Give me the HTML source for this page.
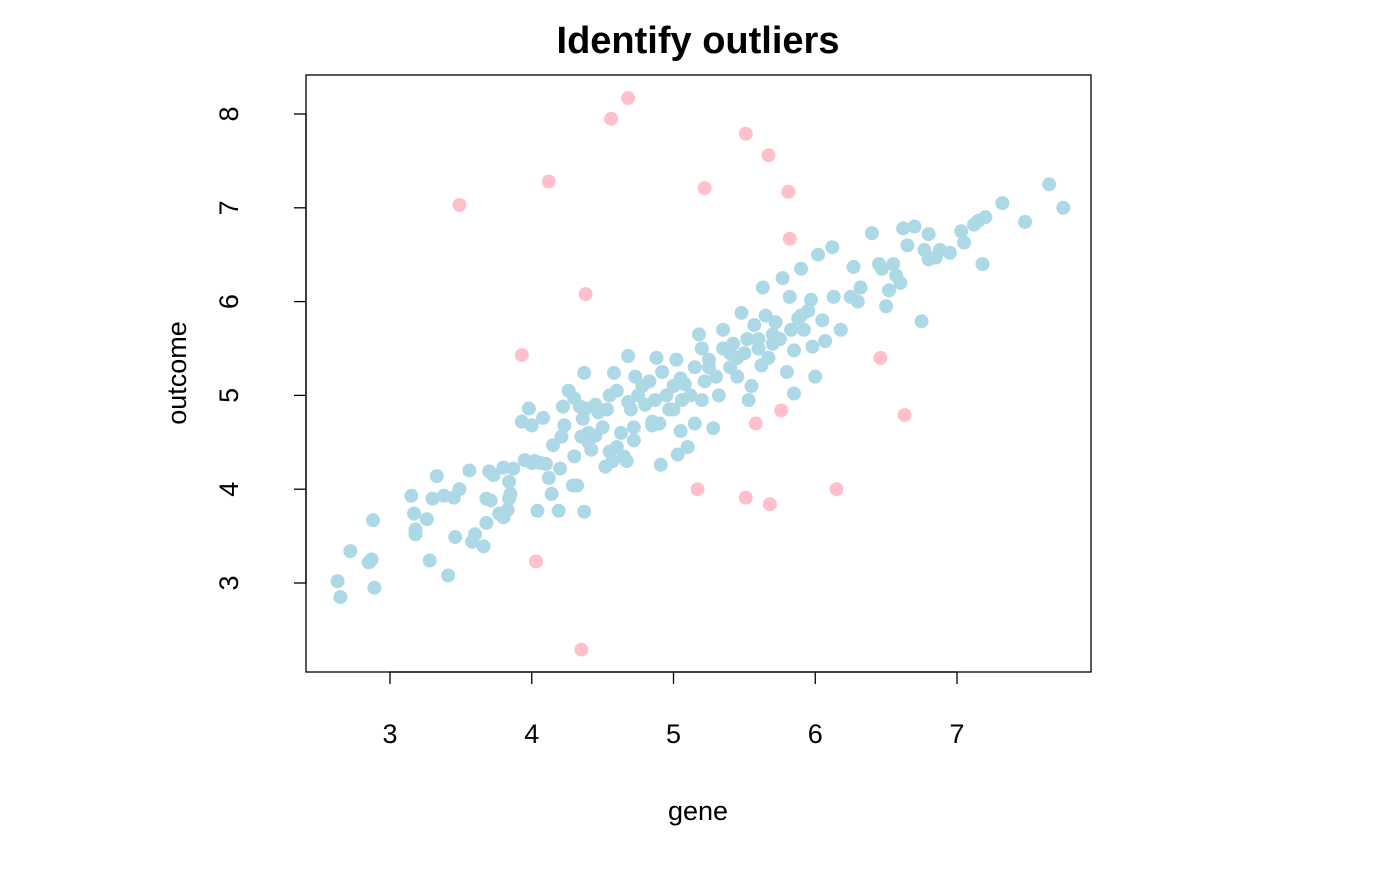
<!DOCTYPE html>
<html><head><meta charset="utf-8"><style>
html,body{margin:0;padding:0;background:#fff;}
svg text{font-family:"Liberation Sans",Arial,sans-serif;fill:#000;}
</style></head><body>
<svg id="chart" width="1400" height="865" xmlns="http://www.w3.org/2000/svg">
<text x="698" y="53" text-anchor="middle" font-size="38" font-weight="bold">Identify outliers</text>
<rect x="306" y="75" width="785" height="597" fill="none" stroke="#000" stroke-width="1.3"/>
<g id="xaxis"></g>
<g id="yaxis"></g>
<g id="points"></g>
<text x="698" y="820" text-anchor="middle" font-size="27">gene</text>
<text transform="translate(186,373) rotate(-90)" text-anchor="middle" font-size="27">outcome</text>
</svg>
<script>
const xTicks=[3,4,5,6,7];
const yTicks=[3,4,5,6,7,8];
const outlierX=[3.49,4.12,4.56,4.68,5.22,5.51,5.67,5.81,5.82,4.38,3.93,6.46,6.63,5.76,5.58,5.17,5.51,5.68,6.15,4.03,4.35];
const outlierY=[7.03,7.28,7.95,8.17,7.21,7.79,7.56,7.17,6.67,6.08,5.43,5.40,4.79,4.84,4.70,4.00,3.91,3.84,4.00,3.23,2.29];
const normalX=[2.63,2.65,2.72,2.85,2.87,2.88,2.89,3.15,3.17,3.18,3.18,3.26,3.28,3.3,3.33,3.38,3.41,3.45,3.46,3.49,3.56,3.58,3.6,3.66,3.68,3.68,3.7,3.71,3.73,3.77,3.8,3.8,3.83,3.84,3.84,3.85,3.87,3.93,3.95,3.98,4.0,4.02,4.04,4.06,4.08,4.1,4.12,4.14,4.15,4.19,4.2,4.21,4.22,4.23,4.26,4.29,4.3,4.3,4.32,4.34,4.35,4.36,4.37,4.37,4.38,4.4,4.42,4.45,4.47,4.5,4.52,4.53,4.55,4.55,4.57,4.58,4.6,4.6,4.63,4.65,4.67,4.68,4.7,4.72,4.72,4.73,4.75,4.78,4.8,4.83,4.85,4.87,4.88,4.9,4.91,4.92,4.95,4.97,5.0,5.02,5.03,5.05,5.06,5.08,5.1,5.12,5.15,5.18,5.2,5.2,5.22,5.25,5.28,5.3,5.32,5.35,5.35,5.4,5.42,5.45,5.48,5.5,5.52,5.53,5.55,5.57,5.6,5.62,5.63,5.65,5.67,5.7,5.72,5.75,5.77,5.8,5.82,5.83,5.85,5.85,5.88,5.9,5.92,5.95,5.97,5.98,6.0,6.02,6.05,6.07,6.12,6.13,6.18,6.25,6.27,6.3,6.32,6.4,6.45,6.47,6.5,6.52,6.55,6.57,6.6,6.62,6.65,6.7,6.75,6.77,6.8,6.8,6.85,6.88,6.95,7.03,7.05,7.12,7.15,7.18,7.2,7.32,7.48,7.65,7.75,4.0,4.68,5.05,5.15,5.4,5.6,4.85,5.0,5.25,4.4,4.45,5.45,5.7,5.9];
const normalY=[3.02,2.85,3.34,3.22,3.25,3.67,2.95,3.93,3.74,3.52,3.57,3.68,3.24,3.9,4.14,3.93,3.08,3.91,3.49,4.0,4.2,3.44,3.52,3.39,3.64,3.9,4.19,3.88,4.15,3.74,4.23,3.7,3.78,3.9,4.08,3.95,4.22,4.72,4.31,4.86,4.68,4.3,3.77,4.28,4.76,4.27,4.12,3.95,4.47,3.77,4.22,4.56,4.88,4.68,5.05,4.04,4.35,4.97,4.04,4.88,4.56,4.75,3.76,5.24,4.86,4.5,4.42,4.57,4.82,4.66,4.24,4.85,4.4,5.0,4.3,5.24,4.45,5.05,4.6,4.35,4.3,5.42,4.85,4.66,4.52,5.2,5.0,5.1,4.9,5.15,4.68,4.95,5.4,4.7,4.26,5.25,5.0,4.85,5.1,5.38,4.37,4.62,4.95,5.12,4.45,5.0,5.3,5.65,5.5,4.95,5.15,5.38,4.65,5.2,5.0,5.5,5.7,5.3,5.55,5.2,5.88,5.45,5.6,4.95,5.1,5.75,5.5,5.32,6.15,5.85,5.4,5.65,5.78,5.6,6.25,5.25,6.05,5.7,5.48,5.02,5.82,6.35,5.7,5.9,6.02,5.52,5.2,6.5,5.8,5.58,6.58,6.05,5.7,6.05,6.37,6.0,6.15,6.73,6.4,6.35,5.95,6.12,6.4,6.28,6.2,6.78,6.6,6.8,5.79,6.55,6.45,6.72,6.47,6.55,6.52,6.75,6.63,6.82,6.86,6.4,6.9,7.05,6.85,7.25,7.0,4.28,4.93,5.18,4.7,5.45,5.6,4.72,4.85,5.3,4.6,4.9,5.4,5.55,5.85];

const NS="http://www.w3.org/2000/svg";
function sx(v){return 390+(v-3)*141.75;}
function sy(v){return 583-(v-3)*93.8;}
const xa=document.getElementById('xaxis'),ya=document.getElementById('yaxis'),pts=document.getElementById('points');
function mk(tag,attrs,parent){const e=document.createElementNS(NS,tag);for(const k in attrs)e.setAttribute(k,attrs[k]);parent.appendChild(e);return e;}
let l=mk('line',{x1:sx(3),x2:sx(7),y1:672,y2:672,stroke:'#000','stroke-width':1.3},xa);


xTicks.forEach(v=>{
 const t=mk('line',{x1:sx(v),x2:sx(v),y1:672,y2:684,stroke:'#000','stroke-width':1.3},xa);
 
 
 const tx=mk('text',{x:sx(v),y:743,'text-anchor':'middle','font-size':27},xa);
 tx.textContent=v;
 
 
});
l=mk('line',{x1:306,x2:306,y1:sy(3),y2:sy(8),stroke:'#000','stroke-width':1.3},ya);


yTicks.forEach(v=>{
 const t=mk('line',{x1:294,x2:306,y1:sy(v),y2:sy(v),stroke:'#000','stroke-width':1.3},ya);
 
 
 const tx=mk('text',{transform:`translate(238,${sy(v)}) rotate(-90)`,'text-anchor':'middle','font-size':27},ya);
 tx.textContent=v;
 
 
});
normalX.forEach((v,i)=>{
 const c=mk('circle',{cx:sx(v),cy:sy(normalY[i]),r:7,fill:'#ADD8E6'},pts);
 
 
});
outlierX.forEach((v,i)=>{
 const c=mk('circle',{cx:sx(v),cy:sy(outlierY[i]),r:7,fill:'#FFC0CB'},pts);
 
 
});
</script>
</body></html>
